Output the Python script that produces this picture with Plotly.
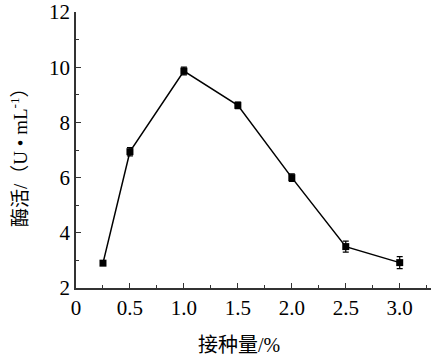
import plotly.graph_objects as go

inoculum = [0.25, 0.5, 1.0, 1.5, 2.0, 2.5, 3.0]
activity = [2.9, 6.94, 9.86, 8.62, 6.0, 3.5, 2.92]
errors = [0.08, 0.15, 0.14, 0.12, 0.14, 0.2, 0.22]
x_ticks = [0, 0.5, 1.0, 1.5, 2.0, 2.5, 3.0]
x_labels = ["0", "0.5", "1.0", "1.5", "2.0", "2.5", "3.0"]
y_ticks = [2, 4, 6, 8, 10, 12]

FONT = "Liberation Serif, Times New Roman, Noto Sans CJK SC, serif"

fig = go.Figure()
fig.add_trace(go.Scatter(
    x=inoculum, y=activity, mode="lines+markers",
    line=dict(color="black", width=1.5),
    marker=dict(symbol="square", size=7, color="black"),
    error_y=dict(type="data", array=errors, visible=True, color="black", thickness=1.2, width=3),
    showlegend=False,
))

L, T, B = 76, 12, 74
W, H = 431, 362
PW, PH = W - L, H - T - B

fig.update_layout(
    width=W, height=H,
    margin=dict(l=L, r=0, t=T, b=B, autoexpand=False),
    paper_bgcolor="white", plot_bgcolor="white",
    font=dict(family=FONT, size=21, color="black"),
    xaxis=dict(
        range=[0, 3.29], tickvals=x_ticks, ticktext=x_labels,
        ticks="inside", ticklen=5, tickwidth=1.2, tickcolor="#333",
        showline=True, linecolor="#333", linewidth=1.5, automargin=False,
        showgrid=False, zeroline=False, ticklabeloverflow="allow",
        minor=dict(dtick=0.25, ticks="inside", ticklen=3, tickwidth=1, tickcolor="#333", showgrid=False),
        tickfont=dict(family=FONT, size=21),
    ),
    yaxis=dict(
        range=[2, 12], tickvals=y_ticks,
        ticks="inside", ticklen=5, tickwidth=1.2, tickcolor="#333",
        showline=True, linecolor="#333", linewidth=1.5, automargin=False,
        showgrid=False, zeroline=False, ticklabeloverflow="allow",
        minor=dict(dtick=1, ticks="inside", ticklen=3, tickwidth=1, tickcolor="#333", showgrid=False),
        tickfont=dict(family=FONT, size=21),
    ),
    annotations=[
        dict(text="接种量/%", xref="paper", yref="paper", x=(239 - L) / PW,
             y=(288 - 345) / PH,
             xanchor="center", yanchor="middle", showarrow=False,
             font=dict(family=FONT, size=20)),
        dict(text="酶活/（U • mL<sup>-1</sup>）", xref="paper", yref="paper",
             x=(19 - L) / PW, y=(288 - 153) / PH, xanchor="center", yanchor="middle",
             textangle=-90, showarrow=False, font=dict(family=FONT, size=19)),
    ],
)

fig.write_html("out.html", config={"displayModeBar": False},
               post_script="document.body.style.margin='0';")
